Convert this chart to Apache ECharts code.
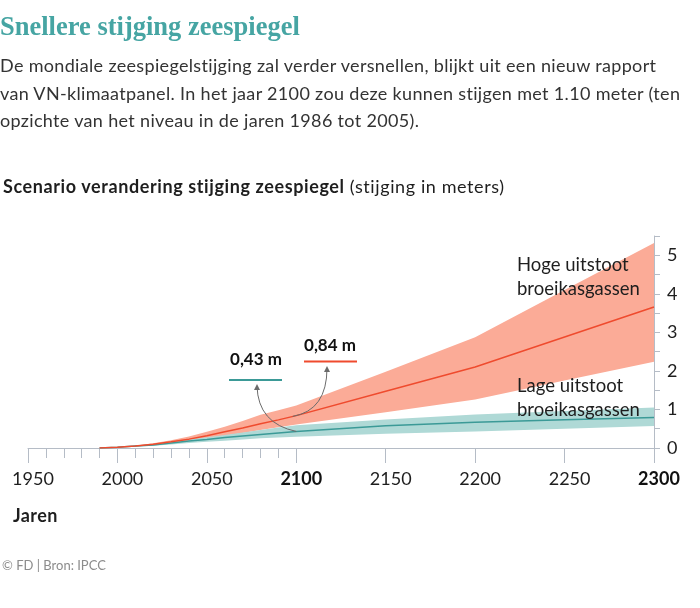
<!DOCTYPE html>
<html>
<head>
<meta charset="utf-8">
<title>Snellere stijging zeespiegel</title>
<script src="https://cdn.jsdelivr.net/npm/echarts@6.0.0/dist/echarts.min.js"></script>
<style>
    html, body{
        margin: 0;
        padding: 0;
        background: #fff;
    }
    .wrap{
        position: relative;
        width: 700px;
        height: 608px;
        overflow: hidden;
        font-family: Lato, "Noto Sans", sans-serif;
        color: #2b2b2b;
    }
    #chart{
        position: absolute;
        left: 0;
        top: 0;
        width: 700px;
        height: 608px;
    }
    .titel{
        position: absolute;
        left: 0;
        top: 11px;
        font-family: "Liberation Serif", "DejaVu Serif", serif;
        font-weight: bold;
        font-size: 26.5px;
        line-height: 30px;
        color: #46a5a3;
        white-space: nowrap;
    }
    .intro{
        position: absolute;
        left: 0;
        top: 52px;
        font-size: 18px;
        letter-spacing: 0.33px;
        line-height: 27.5px;
        white-space: nowrap;
        color: #333;
    }
    .kop{
        position: absolute;
        left: 3px;
        top: 175px;
        font-size: 18px;
        letter-spacing: 0.6px;
        line-height: 22px;
        white-space: nowrap;
        color: #1e1e1e;
    }
    .jaren{
        position: absolute;
        left: 13px;
        top: 504px;
        font-size: 18px;
        letter-spacing: 0.4px;
        line-height: 22px;
        font-weight: bold;
        color: #1e1e1e;
    }
    .bron{
        position: absolute;
        left: 2px;
        top: 557px;
        font-size: 13px;
        line-height: 16px;
        color: #8c8c8c;
    }
</style>
</head>
<body>
<div class="wrap">
    <div id="chart"></div>
    <div class="titel">Snellere stijging zeespiegel</div>
    <div class="intro">De mondiale zeespiegelstijging zal verder versnellen, blijkt uit een nieuw rapport<br>van VN-klimaatpanel. In het jaar 2100 zou deze kunnen stijgen met 1.10 meter (ten<br>opzichte van het niveau in de jaren 1986 tot 2005).</div>
    <div class="kop"><b>Scenario verandering stijging zeespiegel</b> (stijging in meters)</div>
    <div class="jaren">Jaren</div>
    <div class="bron">© FD | Bron: IPCC</div>
</div>
<script>
    // jaren op de x-as
    var jaren = [1990, 2000, 2010, 2020, 2030, 2040, 2050, 2060, 2070, 2080, 2090, 2100, 2150, 2200, 2250, 2300];

    // hoge uitstoot (meters)
    var hoogMidden = [0, 0.02, 0.05, 0.10, 0.16, 0.23, 0.32, 0.42, 0.52, 0.63, 0.73, 0.84, 1.47, 2.10, 2.88, 3.66];
    var hoogBoven  = [0, 0.02, 0.06, 0.12, 0.20, 0.30, 0.42, 0.55, 0.70, 0.86, 0.98, 1.10, 1.98, 2.87, 4.10, 5.32];
    var hoogOnder  = [0, 0.02, 0.04, 0.08, 0.13, 0.18, 0.25, 0.32, 0.39, 0.47, 0.54, 0.61, 0.93, 1.26, 1.75, 2.24];

    // lage uitstoot (meters)
    var laagMidden = [0, 0.02, 0.05, 0.08, 0.13, 0.18, 0.22, 0.27, 0.31, 0.35, 0.39, 0.43, 0.58, 0.67, 0.73, 0.79];
    var laagBoven  = [0, 0.02, 0.06, 0.10, 0.16, 0.22, 0.28, 0.34, 0.40, 0.47, 0.53, 0.59, 0.74, 0.87, 0.96, 1.05];
    var laagOnder  = [0, 0.02, 0.04, 0.06, 0.09, 0.13, 0.16, 0.19, 0.22, 0.25, 0.27, 0.29, 0.37, 0.43, 0.50, 0.57];

    // ticks
    var kleineTicks = [1960, 1970, 1980, 1990, 2010, 2020, 2030, 2040, 2060, 2070, 2080, 2090];
    var vetJaren = [2100, 2300];

    var font = 'Lato, "Noto Sans", sans-serif';
    var asKleur = '#b5bcc6';

    function paren(waarden){
        return jaren.map(function (j, i) { return [j, waarden[i]]; });
    }

    // band tussen onder- en bovengrens als één vlak
    function band(onder, boven, kleur, z){
        return {
            type: 'custom',
            z: z,
            silent: true,
            data: jaren.map(function (j, i) { return [j, onder[i], boven[i]]; }),
            encode: {x: 0, y: [1, 2]},
            renderItem: function (params, api) {
                if (params.dataIndex !== 0) return null;
                var punten = [];
                for (var i = 0; i < jaren.length; i++) {
                    punten.push(api.coord([jaren[i], boven[i]]));
                }
                for (var k = jaren.length - 1; k >= 0; k--) {
                    punten.push(api.coord([jaren[k], onder[k]]));
                }
                return {
                    type: 'polygon',
                    shape: {points: punten},
                    style: {fill: kleur}
                };
            }
        };
    }

    var myChart = echarts.init(document.getElementById('chart'));

    var option = {
        animation: false,
        grid: {
            left: 28,
            right: 46,
            top: 236,
            bottom: 160
        },
        xAxis: [{
            type: 'value',
            min: 1950,
            max: 2300,
            interval: 50,
            splitLine: {show: false},
            axisLine: {show: true, lineStyle: {color: asKleur, width: 1}},
            axisTick: {show: true, length: 15, lineStyle: {color: asKleur}},
            axisLabel: {
                margin: 22,
                fontSize: 18,
                fontFamily: font,
                color: '#1e1e1e',
                padding: [0, 0, 0, 10],
                formatter: function (v) {
                    return vetJaren.indexOf(v) > -1 ? '{b|' + v + '}' : String(v);
                },
                rich: {
                    b: {fontWeight: 'bold', fontSize: 18, fontFamily: font, color: '#111'}
                }
            }
        }, {
            type: 'value',
            min: 1950,
            max: 2300,
            position: 'bottom',
            splitLine: {show: false},
            axisLine: {show: false},
            axisLabel: {show: false},
            axisTick: {show: true, length: 10, customValues: kleineTicks, lineStyle: {color: asKleur}}
        }],
        yAxis: {
            type: 'value',
            position: 'right',
            min: 0,
            max: 5.5,
            interval: 0.5,
            splitLine: {show: false},
            axisLine: {show: true, lineStyle: {color: asKleur, width: 1}},
            axisTick: {show: true, length: 6, lineStyle: {color: asKleur}},
            axisLabel: {
                margin: 13,
                fontSize: 18,
                fontFamily: font,
                color: '#1e1e1e',
                formatter: function (v) {
                    return v % 1 === 0 ? String(v) : '';
                }
            }
        },
        series: [
            band(hoogOnder, hoogBoven, '#fbab97', 1),
            band(laagOnder, laagBoven, '#afd9d6', 2),
            {
                name: 'Lage uitstoot',
                type: 'line',
                data: paren(laagMidden),
                symbol: 'none',
                lineStyle: {color: '#3b9a97', width: 1.5},
                z: 3
            },
            {
                name: 'Hoge uitstoot',
                type: 'line',
                data: paren(hoogMidden),
                symbol: 'none',
                lineStyle: {color: '#ef4b2e', width: 1.5},
                z: 4
            }
        ]
    };
    myChart.setOption(option);

    // annotaties: pijlen vanaf de lijnen in 2100
    var i2100 = jaren.indexOf(2100);
    var pLaag = myChart.convertToPixel({gridIndex: 0}, [2100, laagMidden[i2100]]);
    var pHoog = myChart.convertToPixel({gridIndex: 0}, [2098, hoogMidden[i2100] - 0.02]);

    function pijlPunt(x, y){
        return {
            type: 'polygon',
            shape: {points: [[x, y - 1], [x - 3, y + 5], [x + 3, y + 5]]},
            style: {fill: '#6b6b6b'},
            z: 20
        };
    }

    var tekstStijl = {fontSize: 18.5, fontFamily: font, fill: '#1e1e1e'};

    myChart.setOption({
        graphic: [
            // 0,43 m
            {type: 'text', z: 20, style: {text: '0,43 m', x: 256, y: 360, align: 'center', verticalAlign: 'middle', font: 'bold 17px ' + font, fill: '#111'}},
            {type: 'line', z: 20, shape: {x1: 229, y1: 380, x2: 282, y2: 380}, style: {stroke: '#3b9a97', lineWidth: 2}},
            {type: 'bezierCurve', z: 20, shape: {x1: pLaag[0], y1: pLaag[1], cpx1: 258, cpy1: pLaag[1] - 8, x2: 257, y2: 386}, style: {stroke: '#6b6b6b', lineWidth: 1, fill: 'none'}},
            pijlPunt(257, 385),
            // 0,84 m
            {type: 'text', z: 20, style: {text: '0,84 m', x: 330, y: 346, align: 'center', verticalAlign: 'middle', font: 'bold 17px ' + font, fill: '#111'}},
            {type: 'line', z: 20, shape: {x1: 304, y1: 361.5, x2: 357, y2: 361.5}, style: {stroke: '#ef4b2e', lineWidth: 2}},
            {type: 'bezierCurve', z: 20, shape: {x1: pHoog[0], y1: pHoog[1], cpx1: 327, cpy1: pHoog[1] - 6, x2: 327, y2: 368}, style: {stroke: '#6b6b6b', lineWidth: 1, fill: 'none'}},
            pijlPunt(327, 367),
            // scenario-namen
            {type: 'text', z: 20, style: Object.assign({text: 'Hoge uitstoot', x: 517, y: 265, verticalAlign: 'middle'}, tekstStijl)},
            {type: 'text', z: 20, style: Object.assign({text: 'broeikasgassen', x: 517, y: 289, verticalAlign: 'middle'}, tekstStijl)},
            {type: 'text', z: 20, style: Object.assign({text: 'Lage uitstoot', x: 517, y: 386, verticalAlign: 'middle'}, tekstStijl)},
            {type: 'text', z: 20, style: Object.assign({text: 'broeikasgassen', x: 517, y: 410, verticalAlign: 'middle'}, tekstStijl)}
        ]
    });
</script>
</body>
</html>
